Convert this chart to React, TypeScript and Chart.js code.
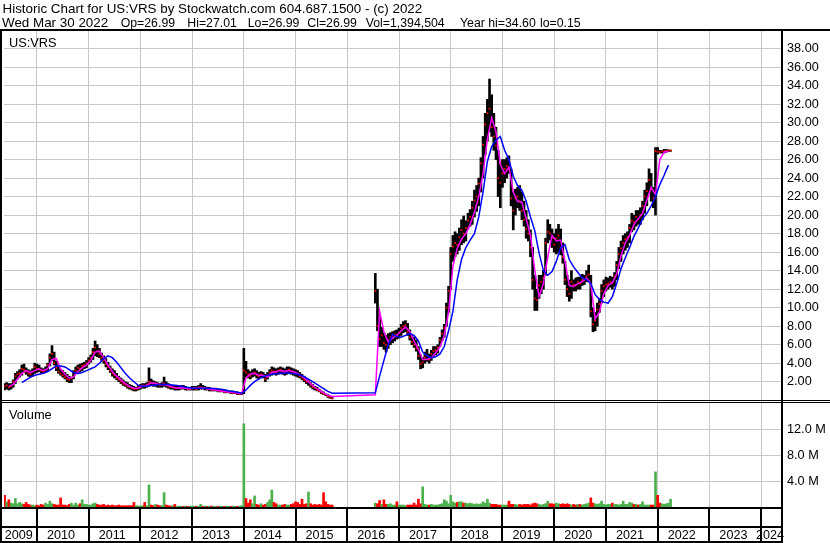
import React, { useEffect, useRef } from "react";
import { Chart, registerables } from "chart.js";

Chart.register(...registerables);

// ---------- text ----------
const headerTitle = "Historic Chart for US:VRS by Stockwatch.com 604.687.1500 - (c) 2022";
const quoteFields = ["Wed Mar 30 2022", "Op=26.99", "Hi=27.01", "Lo=26.99", "Cl=26.99", "Vol=1,394,504", "Year hi=34.60", "lo=0.15"];
const quoteFieldLeft = [2, 120.7, 187.3, 247.7, 307.3, 365.7, 460, 540];
const symbolLabel = "US:VRS";
const volumeLabel = "Volume";

// ---------- axes ----------
const yearLabels = [2009, 2010, 2011, 2012, 2013, 2014, 2015, 2016, 2017, 2018, 2019, 2020, 2021, 2022, 2023, 2024];
const yearTicks = [2010, 2011, 2012, 2013, 2014, 2015, 2016, 2017, 2018, 2019, 2020, 2021, 2022, 2023, 2024];
const priceTicks = [2, 4, 6, 8, 10, 12, 14, 16, 18, 20, 22, 24, 26, 28, 30, 32, 34, 36, 38];
const volumeTicksM = [4, 8, 12];
const xMin = 2009.3637;
const xMax = 2024.404;

// ---------- data: half-month periods starting mid-May 2009 ----------
const firstPeriod = 2009.375;
const periodsPerYear = 24;

const priceLow = [
  1.1,1.2,1.1,1.2,1.4,1.8,2.3,2.5,2.7,3.0,2.8,2.6,2.5,2.6,2.9,
  3.0,3.1,2.9,2.9,3.0,3.2,3.7,4.3,3.8,3.2,2.9,2.7,2.5,2.3,2.0,1.9,1.9,2.3,2.9,3.0,3.1,3.2,3.4,3.5,
  3.9,4.1,4.4,4.8,4.7,4.6,4.3,4.0,3.6,3.3,3.0,2.6,2.4,2.2,2.0,1.8,1.6,1.5,1.3,1.2,1.1,1.0,1.0,1.1,
  1.2,1.3,1.3,1.4,1.5,1.6,1.5,1.5,1.4,1.4,1.4,1.5,1.4,1.3,1.2,1.2,1.1,1.1,1.1,1.2,1.2,1.1,1.1,1.1,
  1.1,1.1,1.1,1.1,1.2,1.2,1.1,1.1,1.0,1.0,1.0,1.0,0.9,0.9,0.9,0.8,0.8,0.8,0.7,0.7,0.7,0.6,0.6,0.6,
  0.7,2.5,2.4,2.3,2.5,2.6,2.4,2.3,2.5,2.4,2.0,2.3,2.6,2.7,2.8,2.7,2.8,2.9,2.8,2.7,2.8,2.9,2.8,2.7,
  2.6,2.5,2.4,2.2,2.0,1.8,1.6,1.4,1.2,1.1,1.0,0.9,0.7,0.6,0.5,0.3,0.2,0.15,
  null,null,null,null,null,null,null,null,null,null,null,null,null,null,null,null,null,null,null,
  10.5,7.5,5.8,5.8,5.5,5.2,5.6,6.0,6.2,6.4,6.6,
  6.7,7.0,7.3,7.4,7.0,6.5,6.0,5.7,5.3,4.4,3.4,3.5,4.0,4.2,4.0,4.3,4.7,4.9,5.1,5.8,6.4,6.8,8.0,9.5,
  12.0,15.0,15.5,15.8,16.2,16.8,17.0,17.2,18.5,18.8,19.0,19.8,20.4,21.0,22.5,24.0,26.5,28.0,29.0,28.5,27.0,26.0,22.0,20.8,
  23.0,23.5,24.0,24.5,21.0,18.4,20.0,20.8,20.5,19.5,18.8,17.5,17.2,15.5,12.0,9.7,9.7,11.0,11.5,12.0,13.5,17.0,17.3,16.5,
  16.0,15.8,16.0,15.7,14.8,12.5,11.2,10.7,11.0,11.8,11.8,12.0,12.0,12.4,12.5,12.8,13.0,9.0,7.4,7.5,8.0,9.5,10.5,11.2,
  11.8,12.0,12.2,12.0,12.3,13.0,14.2,15.0,15.8,16.2,16.5,17.0,18.2,18.4,18.8,19.0,19.0,19.5,20.2,21.0,22.4,21.5,20.8,20.0,
  26.6,26.7,26.7,26.7,26.8,26.85,26.9,
];

const priceHigh = [
  1.8,1.9,1.8,1.8,2.2,2.9,3.1,3.3,3.8,3.9,3.5,3.3,3.2,3.4,4.0,
  3.9,3.8,3.5,3.4,3.6,4.0,5.0,5.9,5.2,4.2,3.6,3.3,3.2,3.0,2.8,2.6,2.5,3.2,3.6,3.8,3.9,4.0,4.1,4.3,
  4.6,4.9,5.6,6.4,6.0,5.6,5.1,4.8,4.5,4.1,3.7,3.4,3.2,2.9,2.6,2.4,2.2,2.0,1.9,1.7,1.6,1.5,1.4,1.6,
  1.7,1.8,1.8,1.9,3.5,2.3,2.1,2.0,1.9,1.8,1.9,2.5,2.0,1.8,1.6,1.6,1.5,1.5,1.5,1.6,1.6,1.5,1.4,1.4,
  1.5,1.5,1.5,1.6,1.8,1.6,1.5,1.4,1.4,1.3,1.3,1.3,1.2,1.2,1.2,1.1,1.1,1.0,1.0,1.0,0.9,0.9,0.8,0.8,
  5.6,4.2,3.3,3.1,3.3,3.4,3.2,3.0,3.1,3.0,2.8,3.0,3.3,3.6,3.5,3.4,3.5,3.6,3.5,3.4,3.6,3.6,3.5,3.4,
  3.3,3.2,3.0,2.8,2.6,2.3,2.1,1.9,1.7,1.5,1.4,1.2,1.0,0.9,0.7,0.6,0.4,0.3,
  null,null,null,null,null,null,null,null,null,null,null,null,null,null,null,null,null,null,null,
  13.7,12.0,9.0,7.9,7.3,7.0,7.2,7.3,7.4,7.5,7.6,
  7.8,8.2,8.5,8.6,8.3,7.6,7.0,6.8,6.5,5.8,4.9,4.6,5.2,5.5,5.0,5.4,5.8,5.8,6.0,6.8,7.6,8.2,10.5,12.3,
  16.5,17.8,18.2,18.0,18.6,19.5,19.9,19.4,20.2,20.6,21.5,22.7,23.2,24.0,26.2,28.5,31.0,32.5,34.7,33.0,31.0,29.5,27.0,25.5,
  26.0,26.0,26.2,26.4,25.0,22.5,22.8,23.0,23.2,22.5,21.5,20.5,19.5,18.4,16.5,13.5,12.0,13.5,13.5,14.0,17.5,19.5,19.0,18.5,
  18.0,18.5,19.0,18.5,17.0,15.0,13.5,13.0,14.0,13.0,13.2,13.3,13.3,13.6,13.5,14.0,14.6,13.5,10.0,9.5,10.5,11.0,12.5,13.0,
  13.3,13.2,13.4,13.3,13.8,15.0,16.5,17.2,17.8,18.0,18.2,19.0,20.2,20.0,20.5,20.5,20.8,21.5,22.7,23.5,25.0,24.5,23.0,27.3,
  27.3,27.0,27.0,27.1,27.1,27.05,27.01,
];

const priceClose = [
  1.5,1.6,1.4,1.5,2.0,2.6,2.8,2.9,3.4,3.3,3.1,2.9,2.8,3.1,3.6,
  3.4,3.3,3.2,3.1,3.3,3.8,4.6,5.0,4.0,3.5,3.1,2.9,2.7,2.5,2.3,2.2,2.4,3.0,3.2,3.5,3.4,3.7,3.8,4.0,
  4.3,4.6,5.2,5.7,5.3,5.0,4.6,4.3,3.9,3.6,3.2,2.9,2.7,2.4,2.2,2.0,1.8,1.7,1.5,1.4,1.3,1.2,1.2,1.4,
  1.5,1.6,1.5,1.7,2.0,1.9,1.8,1.8,1.7,1.6,1.7,1.8,1.6,1.5,1.4,1.4,1.3,1.3,1.3,1.4,1.3,1.3,1.2,1.2,
  1.3,1.3,1.2,1.4,1.4,1.3,1.3,1.2,1.2,1.1,1.1,1.1,1.0,1.0,1.0,0.9,0.9,0.9,0.8,0.8,0.8,0.7,0.7,0.7,
  3.2,3.0,2.8,2.6,2.9,3.0,2.7,2.6,2.8,2.6,2.3,2.7,3.0,3.2,3.1,3.0,3.2,3.3,3.1,3.0,3.2,3.3,3.1,3.0,
  2.9,2.8,2.6,2.4,2.2,2.0,2.1,1.6,1.4,1.3,1.1,1.0,0.8,0.7,0.6,0.4,0.3,0.2,
  null,null,null,null,null,null,null,null,null,null,null,null,null,null,null,null,null,null,null,
  11.8,8.0,6.6,7.0,6.2,6.0,6.5,6.8,7.0,7.1,7.0,
  7.3,7.8,8.0,8.1,7.4,6.8,6.3,6.0,5.6,4.8,3.9,4.1,4.6,4.8,4.4,5.0,5.3,5.4,5.7,6.5,7.2,7.8,10.0,11.8,
  15.8,16.6,17.0,16.8,17.6,18.4,18.0,18.6,19.4,19.8,20.8,21.6,22.0,23.4,25.6,27.6,29.8,31.0,31.5,29.5,28.5,27.5,24.0,23.5,
  24.5,25.0,25.3,25.0,21.8,20.5,21.8,22.0,21.5,20.5,19.5,18.5,18.0,16.5,13.0,11.0,10.8,12.4,12.8,13.2,17.0,18.2,18.0,17.5,
  16.8,17.5,17.8,16.5,15.5,13.0,12.0,11.5,12.8,12.5,12.4,12.8,12.6,13.0,13.0,13.4,13.6,9.6,8.2,8.6,9.8,10.4,11.8,12.3,
  12.5,12.6,12.8,12.7,13.4,14.6,15.8,16.4,17.0,17.4,17.6,18.6,19.4,19.2,19.8,19.6,20.0,21.0,22.0,22.6,23.8,22.8,21.8,26.9,
  26.85,26.8,26.9,26.9,26.95,26.97,26.99,
];

// volume in millions of shares, same half-month periods
const volumeM = [
  1.8,0.8,1.1,0.6,0.5,1.3,0.5,0.7,0.5,0.4,0.7,0.4,0.3,0.3,0.2,
  0.3,0.2,0.4,0.3,0.6,0.4,0.9,0.5,0.4,0.3,0.3,1.4,0.3,0.3,0.2,0.4,0.6,0.3,0.6,0.3,0.5,1.1,0.4,0.4,
  0.3,0.3,0.5,0.6,0.4,0.3,0.3,0.4,0.2,0.3,0.2,0.3,0.2,0.2,0.3,0.2,0.2,0.2,0.2,0.2,0.2,0.7,0.2,0.15,
  0.15,0.2,0.7,0.2,3.4,0.3,0.2,0.4,0.3,0.2,0.2,2.2,0.3,0.2,0.15,0.2,0.4,0.1,0.15,0.1,0.1,0.15,0.1,0.15,
  0.1,0.15,0.1,0.15,0.4,0.1,0.15,0.1,0.1,0.15,0.1,0.1,0.1,0.15,0.1,0.1,0.15,0.1,0.1,0.15,0.1,0.1,0.15,0.2,
  12.8,1.3,0.6,1.1,0.5,1.7,0.4,0.3,0.5,0.3,0.4,0.7,1.1,2.6,0.7,0.5,0.3,0.3,0.3,0.4,0.3,0.3,0.4,0.5,
  0.8,0.7,0.4,1.2,0.4,0.5,2.3,0.5,0.3,0.4,0.3,0.4,0.3,2.2,0.8,0.4,0.3,0.3,
  null,null,null,null,null,null,null,null,null,null,null,null,null,null,null,null,null,null,null,
  0.6,0.5,1.0,0.4,1.1,0.4,0.4,0.5,0.3,0.3,0.8,
  0.3,0.3,0.3,0.2,0.3,0.3,0.3,0.6,0.3,1.2,0.5,3.1,0.4,0.3,0.3,0.4,0.3,0.3,0.3,0.4,0.5,1.1,0.9,0.5,
  1.8,0.8,0.6,0.7,0.8,0.8,0.6,0.6,0.5,0.6,0.5,0.4,0.5,0.4,0.5,0.8,0.6,1.2,0.6,0.4,0.4,0.4,0.3,0.3,
  0.3,0.3,0.3,0.9,0.4,0.4,0.4,0.3,0.4,0.3,0.4,0.4,0.4,0.3,0.5,0.6,0.5,0.4,0.3,0.4,0.5,0.9,0.5,0.5,
  0.4,0.6,0.5,0.4,0.5,0.4,0.5,0.4,0.3,0.4,0.3,0.4,0.4,0.3,0.4,0.5,0.6,1.4,0.6,0.5,0.4,0.5,0.9,0.4,
  0.3,0.4,0.4,0.6,0.4,0.4,0.3,0.4,0.9,0.4,0.4,0.7,0.6,0.4,0.4,0.3,0.4,0.8,0.3,0.3,0.3,0.3,0.3,5.4,
  1.8,0.6,0.5,0.4,0.5,0.6,1.2,
];

// moving averages, monthly points starting mid-May 2009
const maShort = [
  null,
  1.5,1.7,2.3,2.9,3.2,3.0,3.2,3.4,3.2,3.4,
  4.4,4.5,3.4,2.8,2.4,2.5,3.1,3.5,3.8,4.3,
  5.2,5.3,4.6,3.8,3.1,2.6,2.2,1.8,1.5,1.3,
  1.3,1.5,1.6,1.9,1.8,1.7,1.7,1.6,1.4,1.3,
  1.35,1.3,1.25,1.3,1.3,1.35,1.25,1.15,1.1,1.0,
  0.95,0.9,0.85,0.75,0.7,2.4,2.8,2.9,2.7,2.7,
  2.5,3.0,3.1,3.2,3.1,3.2,3.1,2.9,2.6,2.2,
  1.8,1.4,1.1,0.8,0.55,0.4,
  null,null,null,null,null,null,null,null,null,
  0.6,9.6,7.4,6.3,6.7,
  7.0,7.5,7.9,7.4,6.4,5.5,4.4,4.4,4.6,5.1,
  5.8,7.0,9.5,14.5,16.4,17.4,18.0,19.0,20.3,22.0,
  24.5,28.2,30.5,29.0,25.5,24.5,25.2,22.5,21.5,21.4,
  19.6,17.8,14.0,11.2,12.6,15.5,17.8,17.2,17.3,15.0,
  12.4,12.3,12.6,12.8,13.2,12.6,8.8,9.5,11.5,12.4,
  12.7,13.6,15.6,17.0,17.8,19.0,19.6,20.2,21.6,23.0,
  22.2,26.0,26.8,26.9,
];

const maLong = [
  null,null,null,null,
  1.9,2.2,2.5,2.7,2.8,2.9,3.1,3.4,3.7,3.7,
  3.6,3.3,3.0,2.9,3.0,3.2,3.4,3.6,4.0,4.5,
  4.8,4.6,4.1,3.5,2.9,2.4,2.0,1.6,1.5,1.5,
  1.6,1.65,1.7,1.7,1.7,1.65,1.6,1.5,1.4,1.35,
  1.3,1.3,1.3,1.3,1.28,1.25,1.2,1.1,1.0,0.95,
  0.85,0.75,1.1,1.6,2.0,2.3,2.55,2.7,2.8,2.85,
  2.9,2.95,2.95,2.9,2.8,2.65,2.4,2.15,1.85,1.55,
  1.25,0.95,0.75,
  null,null,null,null,null,null,null,null,null,
  0.8,2.6,4.3,6.0,7.1,6.9,6.8,7.0,7.2,7.0,
  6.4,5.2,4.8,4.6,4.7,5.0,5.8,7.5,9.6,13.0,
  15.2,16.5,17.3,18.0,19.8,22.5,25.8,27.4,28.1,28.5,
  27.0,26.0,24.2,23.2,22.7,21.5,19.8,18.3,15.9,14.0,
  13.5,13.9,15.0,16.5,16.8,15.2,14.4,13.8,13.2,13.0,
  12.6,11.4,10.9,10.6,10.5,11.2,12.6,14.2,15.4,16.5,
  17.7,18.6,19.6,20.2,21.0,22.0,23.3,24.3,25.4,
];

// ---------- styles ----------
const FONT = '"Liberation Sans", Arial, sans-serif';
const GRID = "#c8c8c8";
const UP = "#4cb04c";
const DOWN = "#ff0000";

function buildData() {
  const bars: any[] = [];
  const closes: any[] = [];
  const vols: any[] = [];
  const volColors: string[] = [];
  let prev: number | null = null;
  for (let i = 0; i < priceClose.length; i++) {
    const c = priceClose[i];
    if (c == null) continue;
    const x = firstPeriod + i / periodsPerYear;
    bars.push({ x, y: [priceLow[i], priceHigh[i]] });
    closes.push({ x, y: c });
    vols.push({ x, y: (volumeM[i] as number) * 1e6 });
    volColors.push(prev != null && c >= prev ? UP : DOWN);
    prev = c;
  }
  const toLine = (arr: (number | null)[]) => {
    const out: any[] = [];
    arr.forEach((v, j) => {
      if (v != null) out.push({ x: firstPeriod + j / 12, y: v });
    });
    return out;
  };
  return { bars, closes, vols, volColors, short: toLine(maShort), long: toLine(maLong) };
}

const framePlugin = {
  id: "stockFrame",
  beforeDraw(chart: any) {
    const ctx = chart.ctx;
    ctx.save();
    ctx.fillStyle = "#fff";
    ctx.fillRect(0, 0, chart.width, chart.height);
    ctx.restore();
  },
  afterDraw(chart: any) {
    const ctx = chart.ctx;
    const ca = chart.chartArea;
    const xs = chart.scales.x;
    const yP = chart.scales.yP;
    ctx.save();
    ctx.fillStyle = "#000";
    // frame lines
    ctx.fillRect(0, ca.top - 1, chart.width, 2); // top border
    ctx.fillRect(0, ca.top - 1, 2, chart.height); // left border
    ctx.fillRect(ca.right - 1, ca.top - 1, 2, chart.height); // axis separator
    const split = Math.round(yP.bottom);
    ctx.fillRect(0, split - 3, chart.width, 1);
    ctx.fillRect(0, split - 1, chart.width, 1);
    ctx.fillRect(0, ca.bottom, ca.right + 1, 2); // volume baseline
    ctx.fillRect(0, ca.bottom + 19, ca.right + 1, 2);
    ctx.fillRect(0, ca.bottom + 34, ca.right + 1, 2);
    yearTicks.forEach((y) => {
      const px = Math.round(xs.getPixelForValue(y));
      ctx.fillRect(px - 1, ca.bottom + 2, 2, 32);
    });
    // year labels
    ctx.font = "12.6px " + FONT;
    ctx.textAlign = "left";
    ctx.textBaseline = "alphabetic";
    yearLabels.forEach((y) => {
      const t = String(y);
      const w = ctx.measureText(t).width;
      let left = xs.getPixelForValue(y) + 10;
      left = Math.max(ca.left + 0.7, Math.min(left, ca.right + 2 - w));
      ctx.fillText(t, left, ca.bottom + 32);
    });
    // panel labels
    ctx.font = "12.8px " + FONT;
    ctx.fillText(symbolLabel, 9, ca.top + 16.5);
    ctx.fillText(volumeLabel, 9, split + 16);
    // header
    ctx.font = "13.4px " + FONT;
    ctx.fillText(headerTitle, 2.5, 13.3);
    quoteFields.forEach((f, k) => {
      ctx.font = (k === 0 ? "13.4px " : "12.3px ") + FONT;
      ctx.fillText(f, quoteFieldLeft[k], 26.7);
    });
    ctx.restore();
  },
};

export default function App() {
  const ref = useRef<HTMLCanvasElement | null>(null);
  useEffect(() => {
    document.body.style.margin = "0";
    const canvas = ref.current as HTMLCanvasElement;
    const d = buildData();
    const tickFont = { family: FONT, size: 12.7 };
    const chart = new Chart(canvas, {
      type: "bar",
      data: {
        datasets: [
          { type: "line", data: d.long, yAxisID: "yP", xAxisID: "x", borderColor: "#0000ff", borderWidth: 1.5, pointRadius: 0, tension: 0, order: 1 } as any,
          { type: "line", data: d.short, yAxisID: "yP", xAxisID: "x", borderColor: "#ff00ff", borderWidth: 1.5, pointRadius: 0, tension: 0, order: 2 } as any,
          { type: "scatter", data: d.closes, yAxisID: "yP", xAxisID: "x", pointStyle: "rect", pointRadius: 1.2, backgroundColor: "#ff0000", borderWidth: 0, order: 3 } as any,
          { type: "bar", data: d.bars, yAxisID: "yP", xAxisID: "x", backgroundColor: "#000000", barThickness: 2, grouped: false, order: 4 } as any,
          { type: "bar", data: d.vols, yAxisID: "yV", xAxisID: "x", backgroundColor: d.volColors, barThickness: 2, grouped: false, order: 5 } as any,
        ],
      },
      options: {
        responsive: false,
        animation: false,
        devicePixelRatio: 1,
        events: [],
        layout: { padding: { top: 30, left: 2, right: 0, bottom: 0 } },
        plugins: { legend: { display: false }, tooltip: { enabled: false }, title: { display: false } },
        scales: {
          x: {
            type: "linear",
            min: xMin,
            max: xMax,
            offset: false,
            grid: { offset: false, color: GRID, lineWidth: 1, drawTicks: false },
            border: { display: false },
            ticks: { display: false },
            afterBuildTicks: (s: any) => { s.ticks = yearTicks.map((v) => ({ value: v })); },
            afterFit: (s: any) => { s.height = 36; },
          },
          yP: {
            type: "linear",
            position: "right",
            stack: "panels",
            stackWeight: 373,
            min: -0.3,
            max: 40,
            grid: { color: GRID, lineWidth: 1, drawTicks: false },
            border: { display: false },
            ticks: { color: "#000", font: tickFont, padding: 5, autoSkip: false, callback: (v: any) => Number(v).toFixed(2) },
            afterBuildTicks: (s: any) => { s.ticks = priceTicks.map((v) => ({ value: v })); },
            afterFit: (s: any) => { s.width = 48; },
          },
          yV: {
            type: "linear",
            position: "right",
            stack: "panels",
            stackWeight: 104,
            min: 0,
            max: 16e6,
            grid: { color: GRID, lineWidth: 1, drawTicks: false },
            border: { display: false },
            ticks: { color: "#000", font: tickFont, padding: 5, autoSkip: false, callback: (v: any) => (Number(v) / 1e6).toFixed(1) + " M" },
            afterBuildTicks: (s: any) => { s.ticks = volumeTicksM.map((v) => ({ value: v * 1e6 })); },
            afterFit: (s: any) => { s.width = 48; },
          },
        } as any,
      },
      plugins: [framePlugin as any],
    });
    return () => chart.destroy();
  }, []);
  return <canvas ref={ref} width={830} height={543} style={{ display: "block", width: 830, height: 543 }} />;
}
